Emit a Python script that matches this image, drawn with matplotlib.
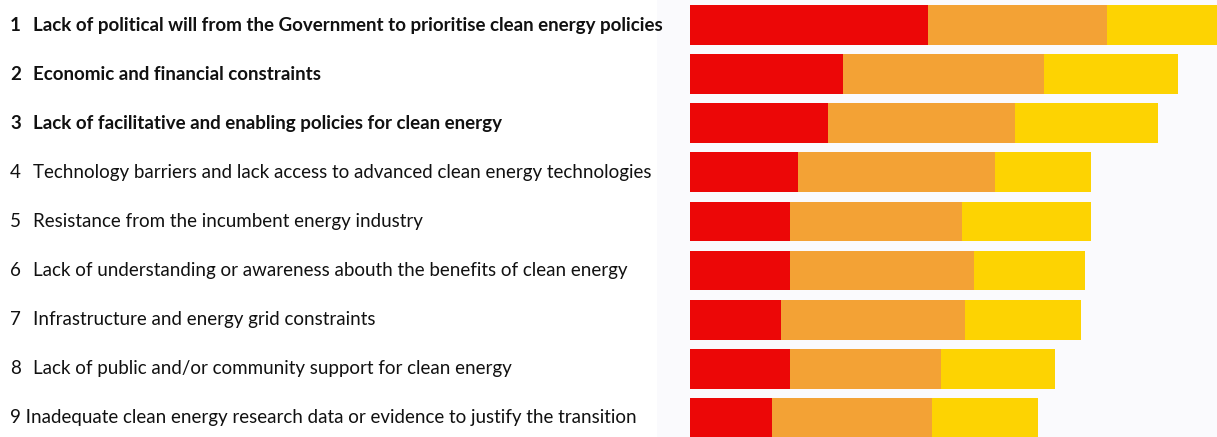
import matplotlib.pyplot as plt
import matplotlib.transforms as mtransforms
from matplotlib.patches import Rectangle
import numpy as np

plt.rcParams['font.family'] = ['Lato', 'DejaVu Sans']

# Ranked barriers to the clean energy transition
ranks = ['1', '2', '3', '4', '5', '6', '7', '8', '']
barriers = [
    'Lack of political will from the Government to prioritise clean energy policies',
    'Economic and financial constraints',
    'Lack of facilitative and enabling policies for clean energy',
    'Technology barriers and lack access to advanced clean energy technologies',
    'Resistance from the incumbent energy industry',
    'Lack of understanding or awareness abouth the benefits of clean energy',
    'Infrastructure and energy grid constraints',
    'Lack of public and/or community support for clean energy',
    '9 Inadequate clean energy research data or evidence to justify the transition',
]
top_three = [True, True, True, False, False, False, False, False, False]

# stacked scores per barrier
first = [47.6, 30.6, 27.6, 21.6, 20.0, 20.0, 18.2, 20.0, 16.4]
second = [35.8, 40.2, 37.4, 39.4, 34.4, 36.8, 36.8, 30.2, 32.0]
third = [23.0, 26.8, 28.6, 19.2, 25.8, 22.2, 23.2, 22.8, 21.2]

colors = ['#EC0707', '#F3A235', '#FDD302']

W, H = 1217, 437
fig = plt.figure(figsize=(W / 100, H / 100), dpi=100)

# light panel behind the bars
fig.patches.append(Rectangle((657 / W, 0), 1 - 657 / W, 1, transform=fig.transFigure,
                             facecolor='#FAFAFD', edgecolor='none', zorder=-1))

ax = fig.add_axes([690 / W, 0, 527 / W, 1])
ax.set_facecolor('none')

y = np.arange(len(barriers))
left = np.zeros(len(barriers))
for vals, c in zip([first, second, third], colors):
    ax.barh(y, vals, left=left, height=0.81, color=c, edgecolor='none')
    left += np.array(vals)

ax.set_xlim(0, 105.4)
ax.set_ylim(8.39, -0.51)
ax.axis('off')

trans = mtransforms.blended_transform_factory(fig.transFigure, ax.transData)
for i, (r, b, bold) in enumerate(zip(ranks, barriers, top_three)):
    weight = 'bold' if bold else 'normal'
    if r:
        ax.text(10 / W, i, r, transform=trans, ha='left', va='center',
                fontsize=13.5, fontweight=weight, color='#111111', clip_on=False)
        ax.text(33 / W, i, b, transform=trans, ha='left', va='center',
                fontsize=13.5, fontweight=weight, color='#111111', clip_on=False)
    else:
        ax.text(10 / W, i, b, transform=trans, ha='left', va='center',
                fontsize=13.5, fontweight=weight, color='#111111', clip_on=False)

fig.savefig('out.png', dpi=100, facecolor='white')
